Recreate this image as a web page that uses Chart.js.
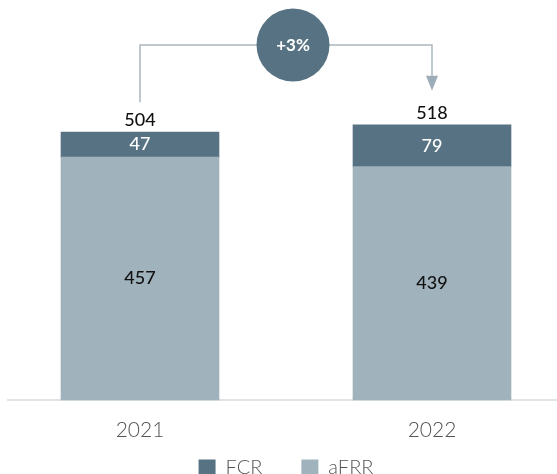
<!DOCTYPE html>
<html>
<head>
<meta charset="utf-8">
<script src="https://cdn.jsdelivr.net/npm/chart.js@4"></script>
<style>
  html, body { margin: 0; padding: 0; background: #fff; overflow: hidden; }
  #wrap { width: 557px; height: 490px; position: relative; }
</style>
</head>
<body>
<div id="wrap"><canvas id="c"></canvas></div>
<script>
// Balancing capacity by product, stacked per year
const years = ['2021', '2022'];
const fcr = [47, 79];
const afrr = [457, 439];
const seriesNames = ['FCR', 'aFRR'];

const FCR_COLOR = '#577383';
const AFRR_COLOR = '#a0b2bc';
const LINE_COLOR = '#a9b6bd';
const FONT = 'Lato, "Open Sans", sans-serif';

const totals = years.map((_, i) => fcr[i] + afrr[i]);

// Value labels inside each segment and the total above each stack
const valueLabels = {
  id: 'valueLabels',
  afterDatasetsDraw(chart) {
    const ctx = chart.ctx;
    ctx.save();
    ctx.textAlign = 'center';
    ctx.textBaseline = 'middle';
    ctx.font = '500 18px ' + FONT;
    chart.data.datasets.forEach((ds, di) => {
      const meta = chart.getDatasetMeta(di);
      meta.data.forEach((bar, i) => {
        const yMid = (bar.y + bar.base) / 2;
        ctx.fillStyle = ds.label === 'FCR' ? '#ffffff' : '#111111';
        ctx.fillText(String(ds.data[i]), bar.x, yMid);
      });
    });
    const topMeta = chart.getDatasetMeta(chart.data.datasets.length - 1);
    topMeta.data.forEach((bar, i) => {
      ctx.fillStyle = '#111111';
      ctx.fillText(String(totals[i]), bar.x, bar.y - 12);
    });
    ctx.restore();
  }
};

// Year-on-year change connector with the growth badge
const growthBadge = {
  id: 'growthBadge',
  afterDatasetsDraw(chart) {
    const ctx = chart.ctx;
    const topMeta = chart.getDatasetMeta(chart.data.datasets.length - 1);
    const a = topMeta.data[0], b = topMeta.data[1];
    const lineY = 45;
    const startY = a.y - 30;
    const tipY = b.y - 34;
    const headH = 15, headW = 12;
    ctx.save();
    ctx.strokeStyle = LINE_COLOR;
    ctx.lineWidth = 1.5;
    ctx.beginPath();
    ctx.moveTo(a.x, startY);
    ctx.lineTo(a.x, lineY);
    ctx.lineTo(b.x, lineY);
    ctx.lineTo(b.x, tipY - headH);
    ctx.stroke();
    ctx.fillStyle = '#9cadb7';
    ctx.beginPath();
    ctx.moveTo(b.x - headW / 2, tipY - headH);
    ctx.lineTo(b.x + headW / 2, tipY - headH);
    ctx.lineTo(b.x, tipY);
    ctx.closePath();
    ctx.fill();

    const cx = a.x + (b.x - a.x) * 0.524;
    ctx.fillStyle = FCR_COLOR;
    ctx.beginPath();
    ctx.arc(cx, lineY, 36.5, 0, Math.PI * 2);
    ctx.fill();
    const pct = Math.round((totals[1] / totals[0] - 1) * 100);
    ctx.fillStyle = '#ffffff';
    ctx.font = 'bold 17px ' + FONT;
    ctx.textAlign = 'center';
    ctx.textBaseline = 'middle';
    ctx.fillText((pct >= 0 ? '+' : '') + pct + '%', cx, lineY + 1);
    ctx.restore();
  }
};

// Baseline running across the full width
const baseline = {
  id: 'baseline',
  beforeDatasetsDraw(chart) {
    const ctx = chart.ctx;
    const y = chart.scales.y.getPixelForValue(0);
    ctx.save();
    ctx.strokeStyle = '#d8dcdf';
    ctx.lineWidth = 1.5;
    ctx.beginPath();
    ctx.moveTo(7, y);
    ctx.lineTo(chart.width, y);
    ctx.stroke();
    ctx.restore();
  }
};

new Chart(document.getElementById('c'), {
  type: 'bar',
  data: {
    labels: years,
    datasets: [
      { label: seriesNames[1], data: afrr, backgroundColor: AFRR_COLOR, barThickness: 158, clip: false },
      { label: seriesNames[0], data: fcr, backgroundColor: FCR_COLOR, barThickness: 158, clip: false }
    ]
  },
  options: {
    responsive: true,
    maintainAspectRatio: false,
    animation: false,
    layout: { padding: { left: 140, right: 125, top: 28, bottom: 2 } },
    scales: {
      x: {
        stacked: true,
        offset: false,
        grid: { display: false, drawTicks: false },
        border: { display: false },
        ticks: {
          color: '#555',
          font: { family: FONT, size: 21, weight: '300' },
          mirror: true,
          padding: -43
        },
        afterFit(scale) { scale.height = 19; }
      },
      y: {
        stacked: true,
        display: false,
        min: 0,
        max: 700
      }
    },
    plugins: {
      legend: {
        position: 'bottom',
        labels: {
          boxWidth: 17,
          boxHeight: 17,
          padding: 39,
          color: '#555',
          font: { family: FONT, size: 20, weight: '300' },
          sort: (p, q) => q.datasetIndex - p.datasetIndex
        }
      },
      tooltip: { enabled: false }
    }
  },
  plugins: [baseline, valueLabels, growthBadge]
});
</script>
</body>
</html>
